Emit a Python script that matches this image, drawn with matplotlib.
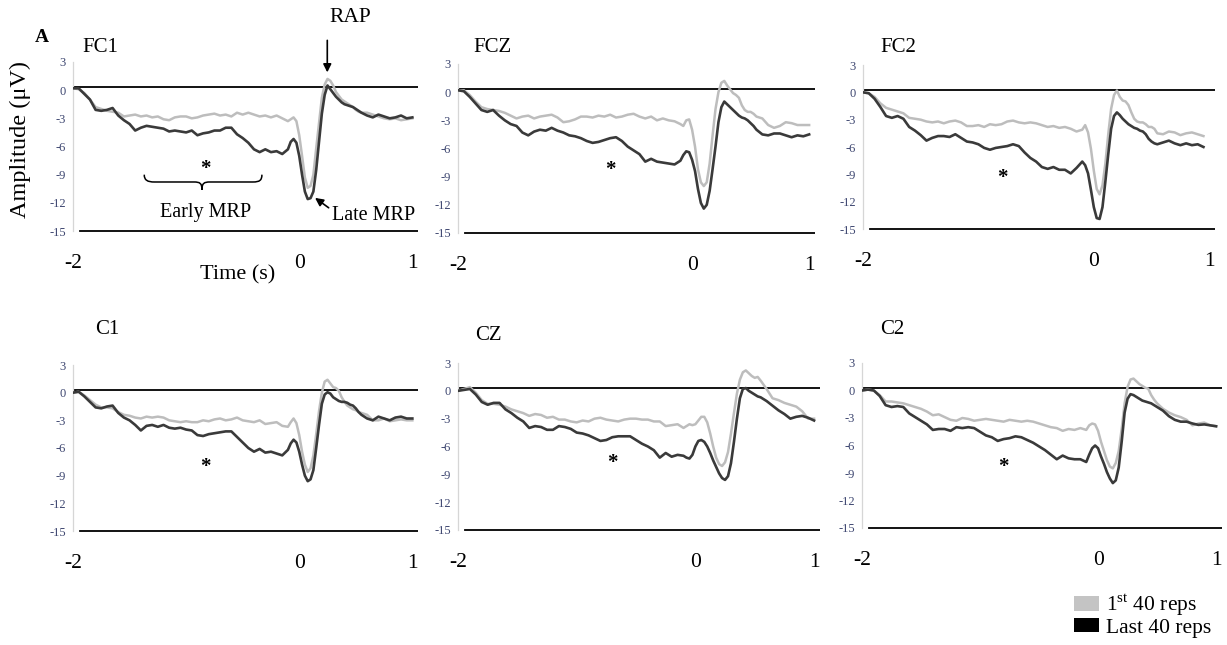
import matplotlib
matplotlib.use("Agg")
import matplotlib.pyplot as plt
from matplotlib.patches import Patch, PathPatch
from matplotlib.path import Path

plt.rcParams['font.family'] = ['Liberation Serif', 'DejaVu Serif']
plt.rcParams['mathtext.fontset'] = 'custom'
plt.rcParams['mathtext.rm'] = 'Liberation Serif'

# ---------------------------------------------------------------- data
# time (s) relative to movement onset
T = [-2.00, -1.95, -1.90, -1.85, -1.80, -1.75, -1.70, -1.65, -1.60, -1.55,
     -1.50, -1.45, -1.40, -1.35, -1.30, -1.25, -1.20, -1.15, -1.10, -1.05,
     -1.00, -0.95, -0.90, -0.85, -0.80, -0.75, -0.70, -0.65, -0.60, -0.55,
     -0.50, -0.45, -0.40, -0.35, -0.30, -0.25, -0.20, -0.15, -0.10,
     -0.075, -0.05, -0.025, 0.0, 0.025, 0.05, 0.075, 0.10, 0.125, 0.15,
     0.175, 0.20, 0.225, 0.25, 0.275, 0.30, 0.325, 0.35, 0.375, 0.40,
     0.425, 0.45, 0.475, 0.50, 0.525, 0.55,
     0.60, 0.65, 0.70, 0.75, 0.80, 0.85, 0.90, 0.95, 1.00]

NAN = float('nan')

fc1_first = [0.2, 0.1, -0.3, -1.0, -1.8, -2.0, -2.2, -2.3, -2.4, -2.8,
             -2.7, -2.6, -2.8, -2.7, -2.9, -2.8, -3.1, -3.2, -2.9, -2.8,
             -2.8, -3.0, -2.9, -2.7, -2.6, -2.5, -2.7, -2.6, -2.8, -2.4,
             -2.6, -2.4, -2.6, -2.8, -2.7, -2.9, -2.7, -3.0, -3.3,
             -3.1, -2.9, -3.3, -4.8, -7.0, -9.3, -10.4, -10.2, -9.0, -6.2,
             -3.5, -0.8, 0.6, 1.2, 1.0, 0.5, -0.2, -0.6, -1.0, -1.2,
             -1.4, -1.6, -1.8, -2.1, -2.3, -2.4,
             -2.4, -2.6, -2.8, -3.0, -3.1, -3.0, -3.2, -3.1, -3.0]
fc1_last = [0.2, 0.2, -0.4, -1.0, -2.1, -2.2, -2.1, -1.9, -2.7, -3.2,
            -3.6, -4.3, -4.0, -3.8, -3.9, -4.0, -4.1, -4.4, -4.3, -4.4,
            -4.5, -4.3, -4.8, -4.6, -4.5, -4.3, -4.3, -4.0, -4.0, -4.7,
            -5.1, -5.6, -6.3, -6.6, -6.3, -6.6, -6.5, -6.8, -6.3,
            -5.5, -5.2, -5.6, -7.0, -9.0, -10.8, -11.6, -11.5, -10.8, -8.5,
            -5.5, -2.5, -0.5, 0.5, 0.1, -0.3, -0.7, -1.0, -1.3, -1.5,
            -1.6, -1.7, -1.8, -2.0, -2.2, -2.4,
            -2.7, -2.9, -2.6, -2.8, -3.0, -2.9, -2.7, -3.0, -2.9]

fcz_first = [0.2, 0.2, -0.3, -1.0, -1.6, -1.8, -1.9, -2.0, -2.2, -2.5,
             -2.8, -2.6, -2.5, -2.8, -2.6, -2.5, -2.4, -2.7, -3.2, -3.1,
             -2.9, -2.6, -2.6, -2.7, -2.5, -2.6, -2.4, -2.7, -2.6, -2.4,
             -2.3, -2.6, -2.8, -2.6, -3.0, -2.8, -3.0, -3.1, -3.4,
             -3.6, -3.0, -2.9, -4.0, -5.8, -8.2, -9.6, -10.0, -9.6, -7.6,
             -4.6, -1.8, 0.0, 1.0, 1.2, 0.7, 0.3, -0.1, -0.3, -0.6,
             -1.4, -1.9, -2.1, -2.1, -2.3, -2.6,
             -2.8, -3.5, -3.8, -3.6, -3.2, -3.3, -3.5, -3.5, -3.5]
fcz_last = [0.2, 0.1, -0.5, -1.2, -1.9, -2.1, -1.9, -2.5, -3.0, -3.4,
            -3.6, -4.3, -4.6, -4.2, -4.0, -4.1, -3.8, -4.1, -4.3, -4.6,
            -4.7, -4.9, -5.2, -5.4, -5.3, -5.1, -4.9, -4.8, -5.2, -5.8,
            -6.2, -6.6, -7.4, -7.1, -7.4, -7.5, -7.6, -7.7, -7.3,
            -6.7, -6.3, -6.4, -7.2, -8.4, -10.3, -11.8, -12.4, -12.0, -10.5,
            -8.2, -5.8, -3.2, -1.6, -1.0, -1.3, -1.6, -1.9, -2.2, -2.5,
            -2.7, -2.8, -3.0, -3.3, -3.6, -4.0,
            -4.5, -4.6, -4.4, -4.4, -4.6, -4.8, -4.6, -4.7, -4.5]

fc2_first = [0.0, -0.1, -0.5, -1.2, -1.7, -1.9, -2.1, -2.3, -2.8, -2.9,
             -3.0, -3.2, -3.3, -3.2, -3.4, -3.2, -3.1, -3.3, -3.7, -3.7,
             -3.6, -3.8, -3.5, -3.6, -3.5, -3.2, -3.1, -3.3, -3.4, -3.3,
             -3.4, -3.6, -3.8, -3.7, -3.9, -3.8, -4.0, -4.3, -4.1,
             -3.6, -4.4, -6.2, -8.6, -10.6, -11.2, -10.2, -7.8, -4.6, -1.8,
             -0.3, 0.2, -0.5, -0.9, -1.0, -1.4, -2.2, -2.9, -3.2, -3.3,
             -3.3, -3.5, -3.8, -3.8, -4.0, -4.5,
             -4.6, -4.3, -4.4, -4.7, -4.5, -4.4, -4.6, -4.8, NAN]
fc2_last = [0.0, -0.1, -0.7, -1.6, -2.6, -2.8, -2.6, -2.9, -3.8, -4.2,
            -4.7, -5.3, -5.0, -4.8, -4.8, -4.9, -4.6, -5.0, -5.4, -5.5,
            -5.7, -6.1, -6.3, -6.1, -6.0, -5.9, -5.7, -5.9, -6.6, -7.2,
            -7.6, -8.2, -8.4, -8.2, -8.5, -8.5, -8.9, -8.3, -7.6,
            -8.0, -8.9, -10.7, -12.6, -13.8, -13.9, -12.6, -9.8, -6.8, -4.0,
            -2.6, -2.2, -2.5, -2.9, -3.2, -3.5, -3.7, -3.9, -4.0, -4.2,
            -4.3, -4.6, -5.1, -5.4, -5.6, -5.7,
            -5.5, -5.3, -5.6, -5.8, -5.6, -5.8, -5.7, -6.0, NAN]

c1_first = [0.0, 0.1, -0.3, -0.8, -1.3, -1.6, -1.6, -1.7, -2.1, -2.4,
            -2.5, -2.7, -2.8, -2.6, -2.7, -2.6, -2.7, -3.0, -3.1, -3.2,
            -3.1, -3.2, -3.2, -3.0, -3.1, -2.9, -2.8, -3.0, -2.9, -2.7,
            -3.0, -3.1, -3.2, -3.0, -3.4, -3.3, -3.2, -3.6, -3.7,
            -3.2, -2.8, -3.3, -4.6, -6.4, -7.8, -8.6, -8.2, -6.8, -4.5,
            -2.0, 0.0, 1.2, 1.4, 1.0, 0.6, 0.5, 0.2, -0.5, -1.0,
            -1.4, -1.6, -1.8, -1.9, -2.1, -2.2,
            -2.4, -3.0, -3.0, -2.8, -3.1, -3.0, -2.9, -3.0, -3.0]
c1_last = [0.0, 0.1, -0.4, -1.0, -1.6, -1.7, -1.5, -1.4, -2.2, -2.7,
           -3.0, -3.5, -4.1, -3.6, -3.5, -3.7, -3.5, -3.8, -3.9, -3.8,
           -4.0, -4.1, -4.6, -4.7, -4.5, -4.4, -4.3, -4.2, -4.2, -4.8,
           -5.4, -6.0, -6.4, -6.1, -6.5, -6.4, -6.6, -6.8, -6.2,
           -5.5, -5.1, -5.4, -6.4, -7.8, -9.0, -9.6, -9.4, -8.4, -6.0,
           -3.5, -1.2, -0.2, 0.05, -0.1, -0.5, -0.7, -0.9, -1.0, -1.0,
           -1.1, -1.3, -1.4, -1.7, -2.1, -2.4,
           -2.8, -3.0, -2.6, -2.8, -3.0, -2.7, -2.6, -2.8, -2.8]

cz_first = [0.0, 0.2, 0.4, -0.2, -1.0, -1.4, -1.4, -1.5, -1.7, -2.0,
            -2.2, -2.4, -2.7, -2.5, -2.6, -2.9, -2.8, -3.1, -3.1, -3.3,
            -3.4, -3.2, -3.3, -3.0, -2.9, -3.1, -3.2, -3.3, -3.1, -3.0,
            -3.0, -3.1, -3.1, -3.3, -3.3, -3.8, -3.7, -3.6, -4.0,
            -3.8, -3.6, -3.7, -3.6, -3.2, -2.8, -2.8, -3.4, -4.6, -6.0,
            -7.2, -7.9, -8.1, -7.7, -6.6, -4.6, -2.4, -0.3, 1.2, 2.0,
            2.2, 1.9, 1.6, 1.4, 1.5, 1.1,
            0.2, -0.8, -1.0, -1.3, -1.5, -1.7, -2.2, -3.0, -3.0]
cz_last = [0.0, 0.1, 0.2, -0.4, -1.2, -1.5, -1.3, -1.3, -2.0, -2.4,
           -2.9, -3.3, -4.0, -3.8, -3.9, -4.2, -4.2, -3.8, -3.9, -4.1,
           -4.5, -4.6, -4.8, -5.1, -5.4, -5.3, -5.0, -4.9, -4.9, -4.9,
           -5.3, -5.7, -6.0, -6.4, -7.2, -6.7, -7.1, -6.9, -7.0,
           -7.2, -7.3, -6.9, -6.0, -5.4, -5.3, -5.5, -6.0, -6.7, -7.5,
           -8.2, -8.9, -9.4, -9.6, -9.2, -7.8, -5.5, -3.0, -0.8, 0.2,
           0.3, 0.0, -0.2, -0.4, -0.6, -0.7,
           -1.1, -1.6, -2.1, -2.5, -3.0, -2.8, -2.7, -2.9, -3.2]

c2_first = [0.0, 0.1, 0.0, -0.5, -1.2, -1.2, -1.3, -1.4, -1.6, -1.8,
            -2.0, -2.3, -2.7, -2.6, -2.9, -3.2, -3.3, -3.0, -3.1, -3.3,
            -3.2, -3.1, -3.2, -3.3, -3.4, -3.2, -3.3, -3.4, -3.3, -3.4,
            -3.6, -3.8, -4.0, -4.1, -4.4, -4.2, -4.3, -4.1, -4.3,
            -3.8, -3.6, -3.7, -4.4, -5.6, -6.6, -7.6, -8.3, -8.5, -7.9,
            -6.6, -4.2, -1.4, 0.4, 1.2, 1.3, 1.0, 0.7, 0.5, 0.3,
            0.2, -0.5, -1.0, -1.4, -1.7, -2.0,
            -2.4, -2.7, -2.9, -3.2, -3.8, -3.6, -3.5, -3.8, -3.9]
c2_last = [0.0, 0.1, 0.0, -0.6, -1.6, -1.8, -1.7, -1.8, -2.5, -2.9,
           -3.3, -3.7, -4.3, -4.2, -4.2, -4.4, -4.0, -4.1, -4.0, -4.1,
           -4.5, -4.9, -5.1, -5.5, -5.3, -5.2, -5.0, -5.1, -5.4, -5.7,
           -6.1, -6.5, -7.0, -7.5, -7.1, -7.4, -7.5, -7.5, -7.8,
           -7.0, -6.3, -6.0, -6.3, -7.2, -8.0, -8.9, -9.6, -10.1, -9.8,
           -8.4, -5.6, -2.4, -0.9, -0.4, -0.5, -0.7, -0.9, -1.1, -1.2,
           -1.3, -1.4, -1.6, -1.8, -2.0, -2.2,
           -2.8, -3.2, -3.4, -3.4, -3.6, -3.75, -3.7, -3.8, -3.9]

channels = ['FC1', 'FCZ', 'FC2', 'C1', 'CZ', 'C2']
first_reps = [fc1_first, fcz_first, fc2_first, c1_first, cz_first, c2_first]
last_reps = [fc1_last, fcz_last, fc2_last, c1_last, cz_last, c2_last]

x_ticks = [-2, 0, 1]
x_ticklabels = ['-2', '0', '1']
y_ticks = [3, 0, -3, -6, -9, -12, -15]
y_ticklabels = ['3', '0', '-3', '-6', '-9', '-12', '-15']

# ---------------------------------------------------------------- layout
W, H = 1227, 645
fig = plt.figure(figsize=(W / 100, H / 100), dpi=100)
fig.patch.set_facecolor('white')

XLIM = (-2.0, 1.05)
YLIM = (-15.5, 3.5)

# panel frames in pixels: x of y-axis, right end, y of "3" and y of "-15"
frames = [(73, 418, 62, 231), (458, 815, 64, 233), (863, 1215, 65, 229),
          (73, 418, 365, 531), (458, 820, 363, 530), (862, 1222, 363, 528)]
title_px = [(100, 48), (493, 47), (898, 48), (107, 330), (488, 335), (892, 330)]
star_pos = [(-0.83, -8.4), (-0.70, -8.3), (-0.79, -9.4),
            (-0.83, -8.1), (-0.70, -7.8), (-0.80, -8.3)]

LIGHT = '#bdbdbd'
DARK = '#3a3a3a'
LABEL_COL = '#3d4670'


def add_panel(x_left, x_right, y3, y15):
    ppu = (y15 - y3) / 18.0
    top = y3 - (YLIM[1] - 3) * ppu
    bottom = y15 + (-15 - YLIM[0]) * ppu
    return fig.add_axes([x_left / W, 1 - bottom / H,
                         (x_right - x_left) / W, (bottom - top) / H])


axes = []
for i, ch in enumerate(channels):
    ax = add_panel(*frames[i])
    axes.append(ax)
    ax.patch.set_alpha(0)
    ax.set_xlim(*XLIM)
    ax.set_ylim(*YLIM)
    ax.axhline(0.3, color='black', lw=1.3, zorder=2)
    ax.axhline(-15, xmin=0.02, xmax=1.0, color='black', lw=1.3, zorder=2)
    ax.plot(T, first_reps[i], color=LIGHT, lw=1.8, zorder=3,
            solid_joinstyle='round')
    ax.plot(T, last_reps[i], color=DARK, lw=1.9, zorder=4,
            solid_joinstyle='round')
    for side in ('top', 'right', 'bottom'):
        ax.spines[side].set_visible(False)
    ax.spines['left'].set_bounds(-15, 3)
    ax.spines['left'].set_color('#d6d6d6')
    ax.spines['left'].set_linewidth(0.9)
    ax.set_yticks(y_ticks)
    ax.set_yticklabels(y_ticklabels)
    ax.tick_params(axis='y', length=0, pad=5, labelsize=9,
                   labelcolor=LABEL_COL)
    ax.set_xticks(x_ticks)
    ax.set_xticklabels(x_ticklabels)
    ax.tick_params(axis='x', length=0, pad=13, labelsize=15.5)
    sx, sy = star_pos[i]
    ax.text(sx, sy, '*', ha='center', va='center', fontsize=15,
            fontweight='bold')
    tx, ty = title_px[i]
    fig.text(tx / W, 1 - ty / H, ch, ha='center', va='center', fontsize=15)

# ---------------------------------------------------------------- FC1 annotations
ax0 = axes[0]
brace = Path(
    [(-1.37, -9.0), (-1.37, -9.6), (-1.34, -9.78), (-1.28, -9.78),
     (-0.93, -9.78),
     (-0.88, -9.78), (-0.86, -9.9), (-0.86, -10.6),
     (-0.86, -9.9), (-0.84, -9.78), (-0.79, -9.78),
     (-0.41, -9.78),
     (-0.35, -9.78), (-0.33, -9.6), (-0.33, -9.0)],
    [Path.MOVETO, Path.CURVE4, Path.CURVE4, Path.CURVE4,
     Path.LINETO,
     Path.CURVE4, Path.CURVE4, Path.CURVE4,
     Path.CURVE4, Path.CURVE4, Path.CURVE4,
     Path.LINETO,
     Path.CURVE4, Path.CURVE4, Path.CURVE4])
ax0.add_patch(PathPatch(brace, fill=False, lw=1.1, color='black'))
ax0.text(-0.83, -13.0, 'Early MRP', ha='center', va='center', fontsize=14.5)
ax0.text(0.29, -13.4, 'Late MRP', ha='left', va='center', fontsize=14.5,
         clip_on=False)
ax0.annotate('', xy=(0.12, -11.3), xytext=(0.28, -12.7),
             arrowprops=dict(arrowstyle='-|>', color='black', lw=1.2,
                             mutation_scale=12),
             annotation_clip=False)
ax0.annotate('', xy=(0.248, 1.6), xytext=(0.248, 5.6),
             arrowprops=dict(arrowstyle='-|>', color='black', lw=1.2,
                             mutation_scale=12),
             annotation_clip=False)
fig.text(350 / W, 1 - 18 / H, 'RAP', ha='center', va='center', fontsize=15.5)
fig.text(42 / W, 1 - 37 / H, 'A', ha='center', va='center', fontsize=14,
         fontweight='bold')
fig.text(238 / W, 1 - 275 / H, 'Time (s)', ha='center', va='center',
         fontsize=16)
fig.text(20 / W, 1 - 140 / H, 'Amplitude (μV)', ha='center', va='center',
         rotation=90, fontsize=17.5)

# ---------------------------------------------------------------- legend
handles = [Patch(facecolor='#c4c4c4', edgecolor='none'),
           Patch(facecolor='black', edgecolor='none')]
fig.legend(handles, [r'1$^{\mathrm{st}}$ 40 reps', 'Last 40 reps'],
           loc='upper left', bbox_to_anchor=(1074 / W, 1 - 592 / H),
           frameon=False, fontsize=15.5, handlelength=1.15, handleheight=0.65,
           handletextpad=0.35, labelspacing=0.0, borderpad=0,
           borderaxespad=0)

fig.savefig('out.png', dpi=100, facecolor='white')
